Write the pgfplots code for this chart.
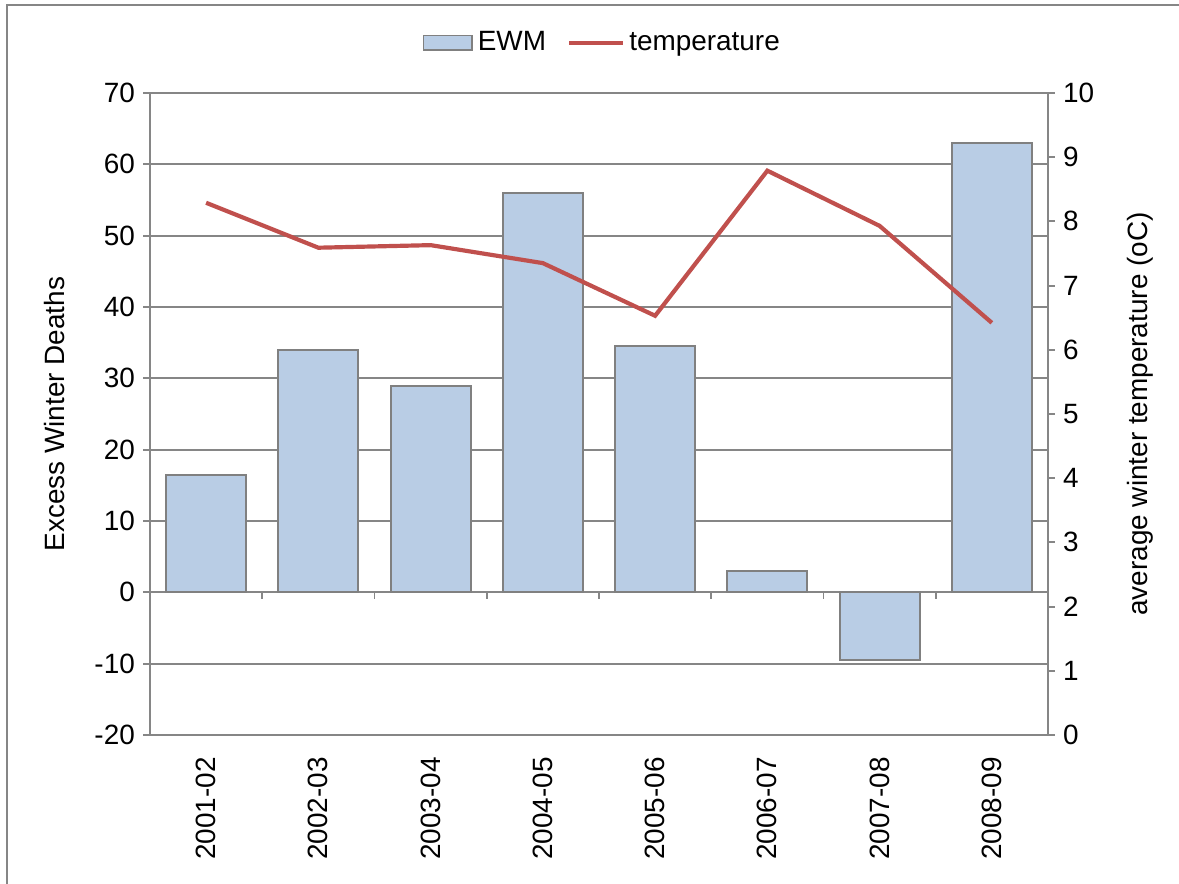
\documentclass[border=0pt]{standalone}
\usepackage{fontspec}
\setmainfont{Liberation Sans}
\usepackage{pgfplots}
\pgfplotsset{compat=1.18}
\definecolor{axgray}{RGB}{134,134,134}
\definecolor{barfill}{RGB}{185,205,229}
\definecolor{baredge}{RGB}{128,128,128}
\definecolor{tempred}{RGB}{192,80,77}
\pgfplotsset{
  common/.style={
    scale only axis,
    width=386.14pt, height=276.06pt,
    at={(64.5pt,64.07pt)}, anchor=south west,
    xmin=-0.5, xmax=7.5,
    /pgf/number format/assume math mode=true,
    tick label style={font=\fontsize{12}{14}\selectfont},
    label style={font=\fontsize{12}{14}\selectfont},
    axis line style={axgray, line width=0.8pt},
    tick style={axgray, line width=0.8pt},
    tick align=outside,
    major tick length=3pt,
  }
}
\begin{document}
\begin{tikzpicture}
\path[use as bounding box] (0,0) rectangle (506.97pt,380.12pt);
\draw[axgray, line width=1.2pt] (3pt,0) -- (3pt,377.97pt) -- (506.97pt,377.97pt);

\begin{axis}[common,
  ymin=-20, ymax=70, ytick={-20,-10,0,10,20,30,40,50,60,70},
  axis y line*=left, axis x line*=bottom,
  x axis line style={draw=none},
  xtick={0,1,2,3,4,5,6,7},
  xticklabels={2001-02,2002-03,2003-04,2004-05,2005-06,2006-07,2007-08,2008-09},
  xticklabel style={rotate=90, anchor=east},
  xticklabel shift=3pt,
  major x tick style={draw=none},
  ymajorgrids, grid style={axgray, line width=0.8pt},
  ybar, bar width=34.4pt,
  ylabel={Excess Winter Deaths},
  ylabel style={at={(axis description cs:-0.1058,0.5)}, anchor=center},
]
\addplot[fill=barfill, draw=baredge, line width=0.8pt] coordinates {
  (0,16.4) (1,34) (2,28.9) (3,56) (4,34.5) (5,3) (6,-9.5) (7,63)
};
\pgfplotsinvokeforeach{0.5,1.5,2.5,3.5,4.5,5.5,6.5}{
  \draw[axgray, line width=0.8pt] (axis cs:#1,0) -- ([yshift=-3pt]axis cs:#1,0);
}
\end{axis}

\begin{axis}[common,
  ymin=0, ymax=10, ytick={0,1,2,3,4,5,6,7,8,9,10},
  axis y line*=right, axis x line=none,
  ylabel={average winter temperature (oC)},
  ylabel style={at={(axis description cs:1.1024,0.5)}, anchor=center},
  legend columns=2,
  legend style={draw=none, fill=none, at={(0.505,1.078)}, anchor=center,
    font=\fontsize{12}{14}\selectfont,
    /tikz/every even column/.append style={column sep=7pt}},
]
\addlegendimage{legend image code/.code={
  \draw[fill=barfill, draw=baredge, line width=0.8pt] (0pt,-3.2pt) rectangle (21pt,3.2pt);}}
\addlegendentry{EWM}
\addplot[tempred, line width=1.8pt,
  legend image code/.code={\draw[tempred, line width=1.8pt] (0pt,0pt) -- (23pt,0pt);}] coordinates {
  (0,8.29) (1,7.59) (2,7.63) (3,7.35) (4,6.53) (5,8.79) (6,7.93) (7,6.42)
};
\addlegendentry{temperature}
\end{axis}
\end{tikzpicture}
\end{document}
